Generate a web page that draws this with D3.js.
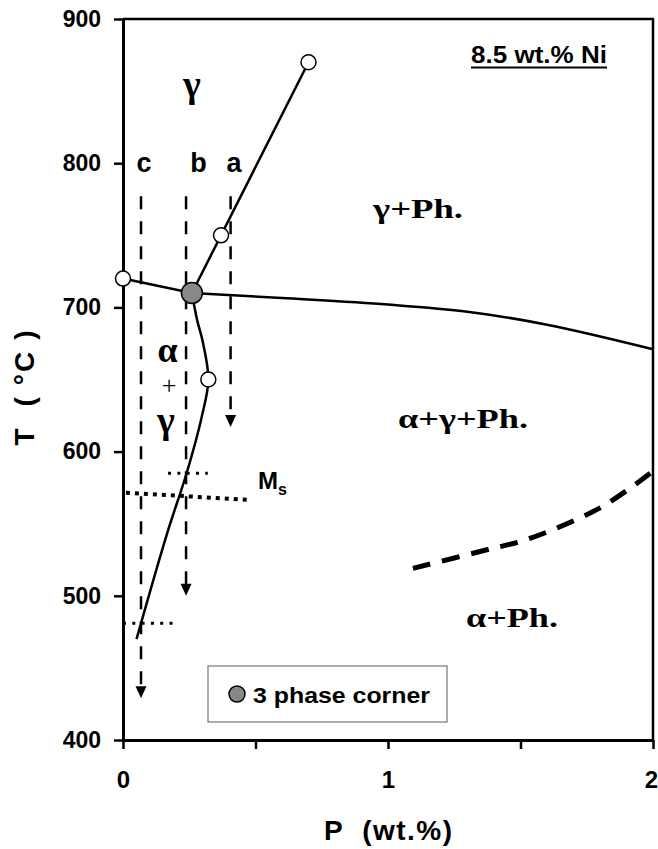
<!DOCTYPE html>
<html>
<head>
<meta charset="utf-8">
<script src="https://cdn.jsdelivr.net/npm/d3@7/dist/d3.min.js"></script>
<style>
  html, body { margin: 0; padding: 0; background: #fff; }
  svg { display: block; }
  .sans { font-family: "Liberation Sans", Arial, Helvetica, sans-serif; font-weight: bold; }
  .serif { font-family: "Liberation Serif", "Times New Roman", Times, serif; font-weight: bold; }
</style>
</head>
<body>
<svg id="chart" width="658" height="849"></svg>
<script>
// Axis ticks
const tempTicks = [400, 500, 600, 700, 800, 900];
const pTicks = [0, 0.5, 1, 1.5, 2];
const pTickLabels = ["0", "", "1", "", "2"];

// Phase boundaries (P wt.%, T °C)
const gammaBoundary = [[0.26, 710], [0.37, 750], [0.70, 870]];
const alphaStart = [[0, 720], [0.26, 710]];
const phosphideBoundary = [[0.26, 710], [0.6, 706.5], [1.0, 702], [1.3, 697], [1.6, 688], [2.0, 671]];
const alphaGammaBoundary = [[0.26, 710], [0.28, 691], [0.30, 677], [0.322, 650], [0.297, 624], [0.24, 585], [0.166, 543], [0.051, 470]];
const gammaVanish = [[1.094, 519], [1.385, 532.5], [1.523, 539], [1.8, 561], [1.99, 585]];

// Marked points
const openPoints = [[0, 720], [0.37, 750], [0.70, 870], [0.322, 650]];
const cornerPoints = [[0.26, 710]];

// Cooling paths a, b, c
const pathNames = ["a", "b", "c"];
const pathP = [0.406, 0.238, 0.068];
const pathStartT = [777, 777, 777];
const pathEndT = [617, 500, 429];

// Martensite start markers
const msLine = [[0.011, 571.5], [0.485, 566.4]];
const msMarkB = [[0.17, 585], [0.32, 585]];
const msMarkC = [[0.0, 481], [0.21, 481]];

const svg = d3.select("#chart");
const plotL = 123, plotR = 653, plotT = 19, plotB = 740;

const x = d3.scaleLinear().domain([0, 2]).range([plotL, plotR]);
const y = d3.scaleLinear().domain([400, 900]).range([plotB, plotT]);

svg.append("rect").attr("width", 658).attr("height", 849).attr("fill", "#fff");

// Frame (top and right)
svg.append("path")
  .attr("d", `M${plotL},${plotT}H${plotR}V${plotB}`)
  .attr("fill", "none").attr("stroke", "#000").attr("stroke-width", 2.5);

// Axes
const yAxis = d3.axisLeft(y).tickValues(tempTicks).tickSize(9).tickSizeOuter(0).tickPadding(13)
  .tickFormat(d3.format("d"));
const gy = svg.append("g").attr("transform", `translate(${plotL},0)`).call(yAxis);
gy.select(".domain").attr("stroke-width", 3);
gy.selectAll(".tick line").attr("stroke-width", 2.5);
gy.selectAll(".tick text").attr("class", "sans").attr("font-size", 23).attr("fill", "#000");

const xAxis = d3.axisBottom(x).tickValues(pTicks).tickSize(9).tickSizeOuter(0).tickPadding(22)
  .tickFormat((d, i) => pTickLabels[i]);
const gx = svg.append("g").attr("transform", `translate(0,${plotB})`).call(xAxis);
gx.select(".domain").attr("stroke-width", 3);
gx.selectAll(".tick line").attr("stroke-width", 2.5);
gx.selectAll(".tick text").attr("class", "sans").attr("font-size", 24).attr("fill", "#000")
  .attr("dx", d => d === 2 ? -2 : 0);

// Axis titles
svg.append("text").attr("class", "sans").attr("font-size", 28)
  .attr("x", (plotL + plotR) / 2).attr("y", 840).attr("text-anchor", "middle")
  .attr("textLength", 128).attr("lengthAdjust", "spacing")
  .style("white-space", "pre").text("P  (wt.%)");
svg.append("text").attr("class", "sans").attr("font-size", 28)
  .attr("transform", "translate(34,388) rotate(-90)").attr("text-anchor", "middle")
  .attr("textLength", 115).attr("lengthAdjust", "spacing")
  .style("white-space", "pre").text("T  ( °C )");

const line = d3.line().x(d => x(d[0])).y(d => y(d[1]));
const curve = d3.line().x(d => x(d[0])).y(d => y(d[1])).curve(d3.curveCatmullRom.alpha(0.5));

// Cooling paths
pathNames.forEach((name, i) => {
  svg.append("path")
    .attr("d", line([[pathP[i], pathStartT[i]], [pathP[i], pathEndT[i] + 6]]))
    .attr("fill", "none").attr("stroke", "#000").attr("stroke-width", 2.5)
    .attr("stroke-dasharray", "13,12");
  const tx = x(pathP[i]), ty = y(pathEndT[i]);
  svg.append("path")
    .attr("d", `M${tx - 5.5},${ty - 12}L${tx + 5.5},${ty - 12}L${tx},${ty}Z`)
    .attr("fill", "#000");
});

// Martensite start lines
svg.append("path").attr("d", line(msLine)).attr("fill", "none")
  .attr("stroke", "#000").attr("stroke-width", 4).attr("stroke-dasharray", "4,5");
[msMarkB, msMarkC].forEach(seg => {
  svg.append("path").attr("d", line(seg)).attr("fill", "none")
    .attr("stroke", "#000").attr("stroke-width", 3).attr("stroke-dasharray", "3,6.3");
});

// Phase boundaries
[gammaBoundary, alphaStart].forEach(seg => {
  svg.append("path").attr("d", line(seg)).attr("fill", "none")
    .attr("stroke", "#000").attr("stroke-width", 2.5);
});
[phosphideBoundary, alphaGammaBoundary].forEach(seg => {
  svg.append("path").attr("d", curve(seg)).attr("fill", "none")
    .attr("stroke", "#000").attr("stroke-width", 2.5);
});
svg.append("path").attr("d", curve(gammaVanish)).attr("fill", "none")
  .attr("stroke", "#000").attr("stroke-width", 5).attr("stroke-dasharray", "18,12");

// Points
svg.selectAll("circle.open").data(openPoints).join("circle")
  .attr("class", "open").attr("cx", d => x(d[0])).attr("cy", d => y(d[1])).attr("r", 7.5)
  .attr("fill", "#fff").attr("stroke", "#000").attr("stroke-width", 1.5);
svg.selectAll("circle.corner").data(cornerPoints).join("circle")
  .attr("class", "corner").attr("cx", d => x(d[0])).attr("cy", d => y(d[1])).attr("r", 10.5)
  .attr("fill", "#888").attr("stroke", "#000").attr("stroke-width", 1.5);

// Path labels
const pathLabelX = [234, 198.5, 144];
pathNames.forEach((name, i) => {
  svg.append("text").attr("class", "sans").attr("font-size", 27)
    .attr("x", pathLabelX[i]).attr("y", 172).attr("text-anchor", "middle").text(name);
});

// Phase field labels
svg.append("text").attr("class", "serif").attr("font-size", 38)
  .attr("x", 192).attr("y", 97).attr("text-anchor", "middle").text("γ");
svg.append("text").attr("class", "serif").attr("font-size", 28)
  .attr("x", 373).attr("y", 218).attr("textLength", 90).attr("lengthAdjust", "spacingAndGlyphs").text("γ+Ph.");
svg.append("text").attr("class", "serif").attr("font-size", 27)
  .attr("x", 398).attr("y", 428).attr("textLength", 130).attr("lengthAdjust", "spacingAndGlyphs").text("α+γ+Ph.");
svg.append("text").attr("class", "serif").attr("font-size", 27)
  .attr("x", 466).attr("y", 627).attr("textLength", 92).attr("lengthAdjust", "spacingAndGlyphs").text("α+Ph.");
svg.append("text").attr("class", "serif").attr("font-size", 36)
  .attr("x", 167.5).attr("y", 362).attr("text-anchor", "middle").text("α");
svg.append("text").attr("font-family", "Liberation Serif, Times New Roman, serif").attr("font-size", 26)
  .attr("x", 169).attr("y", 394).attr("text-anchor", "middle").text("+");
svg.append("text").attr("class", "serif").attr("font-size", 38)
  .attr("x", 166).attr("y", 433).attr("text-anchor", "middle").text("γ");

// Ms label
const ms = svg.append("text").attr("class", "sans").attr("font-size", 24).attr("x", 258).attr("y", 489);
ms.append("tspan").text("M");
ms.append("tspan").attr("font-size", 16).attr("dy", 6).text("s");

// Composition note
svg.append("text").attr("class", "sans").attr("font-size", 23)
  .attr("x", 471).attr("y", 63).attr("textLength", 136).attr("lengthAdjust", "spacingAndGlyphs")
  .text("8.5 wt.% Ni");
svg.append("line").attr("x1", 471).attr("x2", 607).attr("y1", 67.5).attr("y2", 67.5)
  .attr("stroke", "#000").attr("stroke-width", 2);

// Legend
const lg = svg.append("g");
lg.append("rect").attr("x", 208).attr("y", 666).attr("width", 239).attr("height", 56)
  .attr("fill", "#fff").attr("stroke", "#777").attr("stroke-width", 1.2);
lg.append("circle").attr("cx", 237).attr("cy", 694).attr("r", 8)
  .attr("fill", "#888").attr("stroke", "#000").attr("stroke-width", 1.5);
lg.append("text").attr("class", "sans").attr("font-size", 22)
  .attr("x", 253).attr("y", 703).attr("textLength", 177).attr("lengthAdjust", "spacingAndGlyphs")
  .text("3 phase corner");
</script>
</body>
</html>
